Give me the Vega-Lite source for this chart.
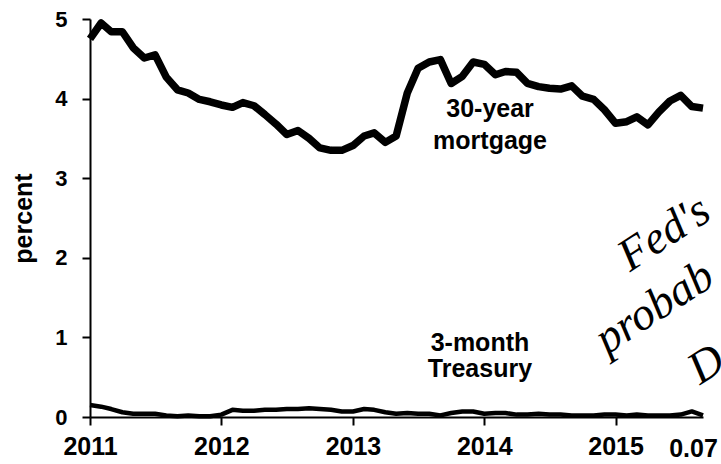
{
  "$schema": "https://vega.github.io/schema/vega-lite/v6.json",
  "width": 613,
  "height": 398,
  "autosize": "none",
  "padding": {"left": 90, "top": 19, "right": 18, "bottom": 47},
  "background": "white",
  "config": {"view": {"stroke": null}, "font": "Liberation Sans"},
  "datasets": {
    "mortgage": [
      {"date": "2011-01-01", "value": 4.75}, {"date": "2011-02-01", "value": 4.95}, {"date": "2011-03-01", "value": 4.84}, {"date": "2011-04-01", "value": 4.84},
      {"date": "2011-05-01", "value": 4.64}, {"date": "2011-06-01", "value": 4.51}, {"date": "2011-07-01", "value": 4.55}, {"date": "2011-08-01", "value": 4.27},
      {"date": "2011-09-01", "value": 4.11}, {"date": "2011-10-01", "value": 4.07}, {"date": "2011-11-01", "value": 3.99}, {"date": "2011-12-01", "value": 3.96},
      {"date": "2012-01-01", "value": 3.92}, {"date": "2012-02-01", "value": 3.89}, {"date": "2012-03-01", "value": 3.95}, {"date": "2012-04-01", "value": 3.91},
      {"date": "2012-05-01", "value": 3.80}, {"date": "2012-06-01", "value": 3.68}, {"date": "2012-07-01", "value": 3.55}, {"date": "2012-08-01", "value": 3.60},
      {"date": "2012-09-01", "value": 3.50}, {"date": "2012-10-01", "value": 3.38}, {"date": "2012-11-01", "value": 3.35}, {"date": "2012-12-01", "value": 3.35},
      {"date": "2013-01-01", "value": 3.41}, {"date": "2013-02-01", "value": 3.53}, {"date": "2013-03-01", "value": 3.57}, {"date": "2013-04-01", "value": 3.45},
      {"date": "2013-05-01", "value": 3.53}, {"date": "2013-06-01", "value": 4.07}, {"date": "2013-07-01", "value": 4.38}, {"date": "2013-08-01", "value": 4.46},
      {"date": "2013-09-01", "value": 4.49}, {"date": "2013-10-01", "value": 4.19}, {"date": "2013-11-01", "value": 4.28}, {"date": "2013-12-01", "value": 4.46},
      {"date": "2014-01-01", "value": 4.43}, {"date": "2014-02-01", "value": 4.30}, {"date": "2014-03-01", "value": 4.34}, {"date": "2014-04-01", "value": 4.33},
      {"date": "2014-05-01", "value": 4.19}, {"date": "2014-06-01", "value": 4.15}, {"date": "2014-07-01", "value": 4.13}, {"date": "2014-08-01", "value": 4.12},
      {"date": "2014-09-01", "value": 4.16}, {"date": "2014-10-01", "value": 4.03}, {"date": "2014-11-01", "value": 3.99}, {"date": "2014-12-01", "value": 3.86},
      {"date": "2015-01-01", "value": 3.69}, {"date": "2015-02-01", "value": 3.71}, {"date": "2015-03-01", "value": 3.77}, {"date": "2015-04-01", "value": 3.67},
      {"date": "2015-05-01", "value": 3.83}, {"date": "2015-06-01", "value": 3.97}, {"date": "2015-07-01", "value": 4.04}, {"date": "2015-08-01", "value": 3.90},
      {"date": "2015-09-01", "value": 3.88}
    ],
    "treasury": [
      {"date": "2011-01-01", "value": 0.15}, {"date": "2011-02-01", "value": 0.13}, {"date": "2011-03-01", "value": 0.10}, {"date": "2011-04-01", "value": 0.06},
      {"date": "2011-05-01", "value": 0.04}, {"date": "2011-06-01", "value": 0.04}, {"date": "2011-07-01", "value": 0.04}, {"date": "2011-08-01", "value": 0.02},
      {"date": "2011-09-01", "value": 0.01}, {"date": "2011-10-01", "value": 0.02}, {"date": "2011-11-01", "value": 0.01}, {"date": "2011-12-01", "value": 0.01},
      {"date": "2012-01-01", "value": 0.03}, {"date": "2012-02-01", "value": 0.09}, {"date": "2012-03-01", "value": 0.08}, {"date": "2012-04-01", "value": 0.08},
      {"date": "2012-05-01", "value": 0.09}, {"date": "2012-06-01", "value": 0.09}, {"date": "2012-07-01", "value": 0.10}, {"date": "2012-08-01", "value": 0.10},
      {"date": "2012-09-01", "value": 0.11}, {"date": "2012-10-01", "value": 0.10}, {"date": "2012-11-01", "value": 0.09}, {"date": "2012-12-01", "value": 0.07},
      {"date": "2013-01-01", "value": 0.07}, {"date": "2013-02-01", "value": 0.10}, {"date": "2013-03-01", "value": 0.09}, {"date": "2013-04-01", "value": 0.06},
      {"date": "2013-05-01", "value": 0.04}, {"date": "2013-06-01", "value": 0.05}, {"date": "2013-07-01", "value": 0.04}, {"date": "2013-08-01", "value": 0.04},
      {"date": "2013-09-01", "value": 0.02}, {"date": "2013-10-01", "value": 0.05}, {"date": "2013-11-01", "value": 0.07}, {"date": "2013-12-01", "value": 0.07},
      {"date": "2014-01-01", "value": 0.04}, {"date": "2014-02-01", "value": 0.05}, {"date": "2014-03-01", "value": 0.05}, {"date": "2014-04-01", "value": 0.03},
      {"date": "2014-05-01", "value": 0.03}, {"date": "2014-06-01", "value": 0.04}, {"date": "2014-07-01", "value": 0.03}, {"date": "2014-08-01", "value": 0.03},
      {"date": "2014-09-01", "value": 0.02}, {"date": "2014-10-01", "value": 0.02}, {"date": "2014-11-01", "value": 0.02}, {"date": "2014-12-01", "value": 0.03},
      {"date": "2015-01-01", "value": 0.03}, {"date": "2015-02-01", "value": 0.02}, {"date": "2015-03-01", "value": 0.03}, {"date": "2015-04-01", "value": 0.02},
      {"date": "2015-05-01", "value": 0.02}, {"date": "2015-06-01", "value": 0.02}, {"date": "2015-07-01", "value": 0.03}, {"date": "2015-08-01", "value": 0.07},
      {"date": "2015-09-01", "value": 0.02}
    ],
    "labels": [
      {"date": "2014-01-17", "value": 3.87, "text": "30-year"},
      {"date": "2014-01-17", "value": 3.47, "text": "mortgage"},
      {"date": "2013-12-20", "value": 0.93, "text": "3-month"},
      {"date": "2013-12-20", "value": 0.60, "text": "Treasury"}
    ],
    "edge": [
      {"date": "2015-05-30", "value": -0.4, "text": "0.07"}
    ],
    "notes": [
      {"date": "2015-02-10", "value": 1.82, "text": "Fed's"},
      {"date": "2014-12-08", "value": 0.78, "text": "probab"},
      {"date": "2015-08-24", "value": 0.40, "text": "D"}
    ]
  },
  "layer": [
    {
      "data": {"name": "treasury"},
      "mark": {"type": "line", "color": "black", "strokeWidth": 4.5, "strokeJoin": "round"},
      "encoding": {
        "x": {
          "field": "date", "type": "temporal",
          "scale": {"type": "utc", "domain": [{"year": 2011, "month": 1, "date": 1, "utc": true}, {"year": 2015, "month": 9, "date": 1, "utc": true}]},
          "axis": {
            "title": null, "grid": false, "format": "%Y", "tickCount": {"interval": "year", "step": 1},
            "domainColor": "black", "domainWidth": 2, "tickColor": "black", "tickWidth": 2, "tickSize": 8,
            "labelFontSize": 25, "labelFontWeight": "bold", "labelColor": "black", "labelPadding": 9, "labelFlush": false, "labelOverlap": false
          }
        },
        "y": {
          "field": "value", "type": "quantitative",
          "scale": {"domain": [0, 5], "nice": false, "zero": true},
          "axis": {
            "title": "percent", "titleFontSize": 25, "titleFontWeight": "bold", "titleColor": "black", "titlePadding": 18,
            "grid": false, "values": [0, 1, 2, 3, 4, 5], "format": "d",
            "domainColor": "black", "domainWidth": 2, "tickColor": "black", "tickWidth": 2, "tickSize": 8,
            "labelFontSize": 22, "labelFontWeight": "bold", "labelColor": "black", "labelPadding": 15
          }
        }
      }
    },
    {
      "data": {"name": "mortgage"},
      "mark": {"type": "line", "color": "black", "strokeWidth": 7.5, "strokeJoin": "round"},
      "encoding": {
        "x": {"field": "date", "type": "temporal"},
        "y": {"field": "value", "type": "quantitative"}
      }
    },
    {
      "data": {"name": "labels"},
      "mark": {"type": "text", "fontSize": 25, "fontWeight": "bold", "color": "black", "align": "center", "baseline": "middle"},
      "encoding": {
        "x": {"field": "date", "type": "temporal"},
        "y": {"field": "value", "type": "quantitative"},
        "text": {"field": "text"}
      }
    },
    {
      "data": {"name": "edge"},
      "mark": {"type": "text", "fontSize": 25, "fontWeight": "bold", "color": "black", "align": "left", "baseline": "middle"},
      "encoding": {
        "x": {"field": "date", "type": "temporal"},
        "y": {"field": "value", "type": "quantitative"},
        "text": {"field": "text"}
      }
    },
    {
      "data": {"name": "notes"},
      "mark": {"type": "text", "fontSize": 46, "font": "Liberation Serif", "fontStyle": "italic", "color": "black", "align": "left", "baseline": "alphabetic", "angle": -33},
      "encoding": {
        "x": {"field": "date", "type": "temporal"},
        "y": {"field": "value", "type": "quantitative"},
        "text": {"field": "text"}
      }
    }
  ]
}
